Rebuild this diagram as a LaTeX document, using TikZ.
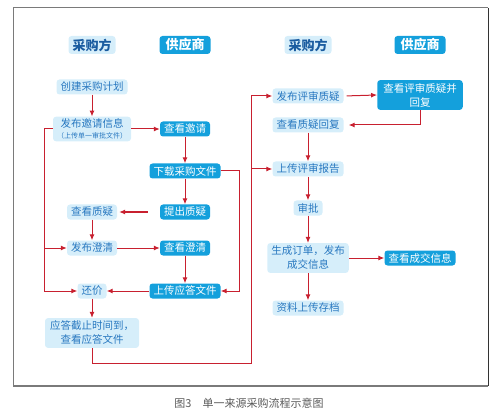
\documentclass[tikz,border=0pt]{standalone}
\usepackage{fontspec}
\usepackage{xcolor}
\usepackage{tikz}
\usetikzlibrary{arrows.meta,positioning,calc}
\newfontfamily\cjk{Noto Sans CJK SC}
\definecolor{procfill}{HTML}{D6EEFA}
\definecolor{proctext}{HTML}{2878C0}
\definecolor{headtext}{HTML}{1A5CA0}
\definecolor{suppfill}{HTML}{14A0DC}
\definecolor{flowred}{HTML}{C8202F}
\definecolor{framegray}{HTML}{7A7A7A}
\tikzset{
  procbox/.style={rectangle, fill=procfill, text=proctext, rounded corners=3pt,
    minimum height=15pt, inner xsep=4pt, inner ysep=2pt, align=center,
    font=\cjk\fontsize{10.5}{14}\selectfont},
  suppbox/.style={procbox, fill=suppfill, text=white},
  procheader/.style={procbox, text=headtext, minimum width=47pt, minimum height=18pt,
    font=\cjk\bfseries\fontsize{13}{15}\selectfont},
  suppheader/.style={procheader, fill=suppfill, text=white, minimum width=51pt},
  flowarrow/.style={-{Latex[length=6pt,width=5pt]}, draw=flowred, line width=1pt},
}

\begin{document}
\begin{tikzpicture}[x=1pt, y=-1pt]
  \useasboundingbox (0,0) rectangle (501,417);

  % Frame and caption
  \draw[framegray, line width=1pt] (13,386) -- (13,8) -- (488,8);
  \draw[black!80, line width=1pt] (488,8) -- (488,386);
  \draw[framegray, line width=2pt] (13,386) -- (488,386);
  \node[font=\cjk\fontsize{11}{13}\selectfont, text=black!65] (caption) at (249,403)
    {图3\quad 单一来源采购流程示意图};

  % Column headers
  \node[procheader] (headp1) at (92,45) {采购方};
  \node[suppheader] (heads1) at (185,45) {供应商};
  \node[procheader] (headp2) at (308,45) {采购方};
  \node[suppheader] (heads2) at (420,45) {供应商};

  % Left half: invitation, questions, clarification
  \node[procbox] (plan) at (92,87) {创建采购计划};
  \node[procbox, minimum width=75pt] (invite) at (92,129)
    {发布邀请信息\\[-3pt]{\fontsize{7}{8}\selectfont （上传单一审批文件）}};
  \node[suppbox] (viewinv) at (185,129) {查看邀请};
  \node[suppbox] (download) at (185,171) {下载采购文件};
  \node[suppbox] (raise) at (185,212) {提出质疑};
  \node[procbox] (viewq) at (92,212) {查看质疑};
  \node[procbox] (clarify) at (92,248) {发布澄清};
  \node[suppbox] (viewclar) at (185,248) {查看澄清};
  \node[suppbox] (upload) at (185,291) {上传应答文件};
  \node[procbox] (counter) at (92,291) {还价};
  \node[procbox, inner xsep=5pt, inner ysep=3pt] (deadline) at (92,333)
    {应答截止时间到，\\查看应答文件};

  % Right half: review, approval, archive
  \node[procbox] (review) at (308,96) {发布评审质疑};
  \node[suppbox, inner xsep=6pt, inner ysep=3pt] (reply) at (420,95) {查看评审质疑并\\回复};
  \node[procbox] (viewreply) at (308,125) {查看质疑回复};
  \node[procbox] (report) at (308,169) {上传评审报告};
  \node[procbox] (approve) at (308,208) {审批};
  \node[procbox, inner ysep=3pt] (order) at (308,258) {生成订单，发布\\成交信息};
  \node[suppbox] (deal) at (420,258) {查看成交信息};
  \node[procbox] (archive) at (308,308) {资料上传存档};

  % Bus coordinates
  \coordinate (lbus) at (44,129);
  \coordinate (rbus) at (239,171);
  \coordinate (bbus) at (251,363);

  % Arrows: left half
  \draw[flowarrow] (plan) -- (invite);
  \draw[flowarrow] (invite.east) -- (viewinv.west);
  \draw[flowarrow] (viewinv) -- (download);
  \draw[flowarrow] (download) -- (raise);
  \draw[flowarrow, shorten <=12pt, shorten >=2pt] (raise.west) -- (viewq.east);
  \draw[flowarrow] (viewq) -- (clarify);
  \draw[flowarrow] (clarify.east) -- (viewclar.west);
  \draw[flowarrow] (viewclar) -- (upload);
  \draw[flowarrow] (upload.west) -- (counter.east);
  \draw[flowarrow] (counter) -- (deadline);

  % Arrows: return loops
  \draw[flowarrow] (invite.west) -- (lbus) |- (counter.west);
  \draw[flowarrow] (lbus |- clarify.west) -- (clarify.west);
  \draw[flowarrow] (download.east) -- (rbus) |- (upload.east);

  % Arrows: to review stage
  \draw[flowarrow] (deadline.south) |- (bbus) |- (review.west);
  \draw[flowarrow] (bbus |- report.west) -- (report.west);

  % Arrows: right half
  \draw[flowarrow, shorten <=3pt] (review.east) -- (reply.west);
  \draw[flowarrow, shorten >=5pt] (reply.south) |- (viewreply.east);
  \draw[flowarrow] (viewreply) -- (report);
  \draw[flowarrow] (report) -- (approve);
  \draw[flowarrow] (approve) -- (order);
  \draw[flowarrow] (order) -- (archive);
  \draw[flowarrow] (order.east) -- (deal.west);
\end{tikzpicture}
\end{document}
